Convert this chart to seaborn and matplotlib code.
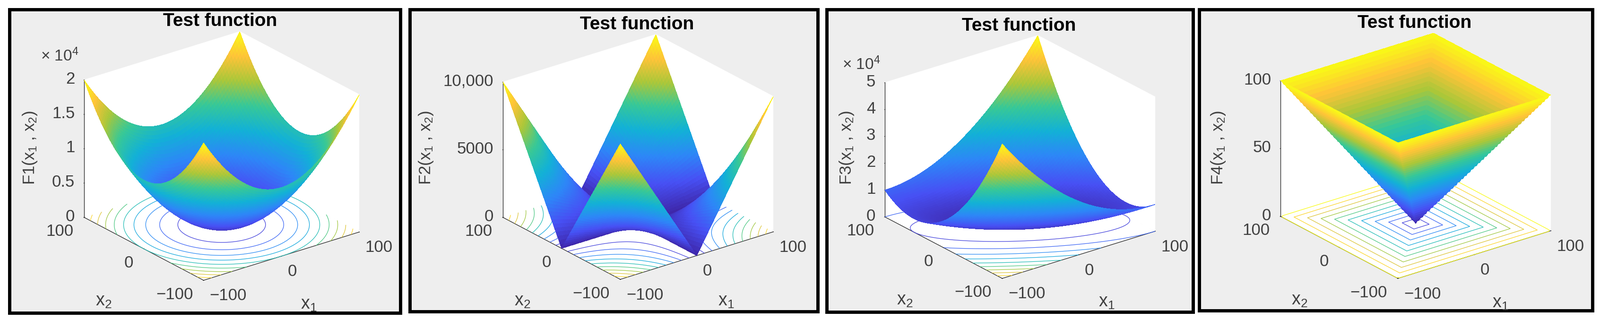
import numpy as np
import matplotlib
matplotlib.use('Agg')
import matplotlib.pyplot as plt
import seaborn as sns
from matplotlib.patches import Rectangle
from matplotlib.transforms import Affine2D
from mpl_toolkits.mplot3d import proj3d

W_PX, H_PX = 3385, 677

# ── values ────────────────────────────────────────────────────────
# |x| on the half axis, step 2.5
abs_half = [0, 2.5, 5, 7.5, 10, 12.5, 15, 17.5, 20, 22.5, 25, 27.5, 30, 32.5, 35, 37.5,
            40, 42.5, 45, 47.5, 50, 52.5, 55, 57.5, 60, 62.5, 65, 67.5, 70, 72.5, 75,
            77.5, 80, 82.5, 85, 87.5, 90, 92.5, 95, 97.5, 100]
# height of the parabola walls, same step, runs out to |x| = 200 for F3
sq_half = [0, 6.25, 25, 56.25, 100, 156.25, 225, 306.25, 400, 506.25, 625, 756.25, 900,
           1056.25, 1225, 1406.25, 1600, 1806.25, 2025, 2256.25, 2500, 2756.25, 3025,
           3306.25, 3600, 3906.25, 4225, 4556.25, 4900, 5256.25, 5625, 6006.25, 6400,
           6806.25, 7225, 7656.25, 8100, 8556.25, 9025, 9506.25, 10000, 10506.25, 11025,
           11556.25, 12100, 12656.25, 13225, 13806.25, 14400, 15006.25, 15625, 16256.25,
           16900, 17556.25, 18225, 18906.25, 19600, 20306.25, 21025, 21756.25, 22500,
           23256.25, 24025, 24806.25, 25600, 26406.25, 27225, 28056.25, 28900, 29756.25,
           30625, 31506.25, 32400, 33306.25, 34225, 35156.25, 36100, 37056.25, 38025,
           39006.25, 40000]

xy_ticks = [-100, 0, 100]
xy_ticklabels = ['\u2212100', '0', '100']

names = ['F1', 'F2', 'F3', 'F4']
z_tops = [20000, 10000, 50000, 100]
z_ticks = [[0, 5000, 10000, 15000, 20000],
           [0, 5000, 10000],
           [0, 10000, 20000, 30000, 40000, 50000],
           [0, 50, 100]]
z_ticklabels = [['0', '0.5', '1', '1.5', '2'],
                ['0', '5000', '10,000'],
                ['0', '1', '2', '3', '4', '5'],
                ['0', '50', '100']]
contour_levels = [[2000, 4000, 6000, 8000, 10000, 12000, 14000, 16000, 18000],
                  [1000, 2000, 3000, 4000, 5000, 6000, 7000, 8000, 9000],
                  [5000, 10000, 15000, 20000, 25000, 30000, 35000, 40000, 45000],
                  [10, 20, 30, 40, 50, 60, 70, 80, 90, 99.9]]
parula_anchors = ['#3e26a8', '#4750f4', '#2d87f7', '#12b1d6', '#37c897', '#abc739',
                  '#fec338', '#f9fb15']

# ── layout, in reference pixels ───────────────────────────────────
frames = [(16, 16, 850, 665), (863, 16, 1734, 662), (1745, 16, 2527, 663), (2533, 16, 3372, 660)]
# left floor corner x, right floor corner x, front floor y, back top y
cubes = [(178, 760, 593, 67), (1064, 1636, 591, 73), (1872, 2444, 589, 75), (2709, 3281, 589, 70)]
title_xy = [(466, 45), (1348, 52), (2156, 55), (2993, 49)]
zlabel_xy = [(63, 313), (902, 313), (1791, 313), (2578, 313)]
x1_xy = [(653, 644), (1536, 637), (2341, 639), (3174, 641)]
x2_xy = [(219, 637), (1105, 637), (1914, 635), (2749, 635)]
expo_xy = [(126, 119), None, (1822, 137), None]

sns.set_theme(style='white')
plt.rcParams['font.family'] = ['Liberation Sans', 'DejaVu Sans']
plt.rcParams['mathtext.default'] = 'regular'
TXT = '#404040'
parula = sns.blend_palette(parula_anchors, as_cmap=True)


def fx(px):
    return px / W_PX


def fy(px):
    return 1 - px / H_PX


def nudge_up(label, px):
    # mplot3d resets tick label positions at draw time, so shift while drawing
    draw = label.draw

    def shifted(renderer):
        t = label.get_transform()
        label.set_transform(t + Affine2D().translate(0, px))
        draw(renderer)
        label.set_transform(t)
    label.draw = shifted


# ── surfaces ──────────────────────────────────────────────────────
sq = np.array(sq_half)
ab = np.array(abs_half)
idx = np.arange(-40, 41)
x_axis = np.sign(idx) * ab[np.abs(idx)]
I, J = np.meshgrid(idx, idx)
X, Y = np.meshgrid(x_axis, x_axis)
Z1 = sq[np.abs(I)] + sq[np.abs(J)]
Z2 = ab[np.abs(I)] * ab[np.abs(J)]
Z3 = sq[np.abs(J)] + sq[np.abs(I + J)]
Z4 = np.maximum(ab[np.abs(I)], ab[np.abs(J)])
surfaces = [Z1, Z2, Z3, Z4]

fig = plt.figure(figsize=(W_PX / 100, H_PX / 100), dpi=100, facecolor='white')

for i, name in enumerate(names):
    x0, y0, x1, y1 = frames[i]
    fig.add_artist(Rectangle((fx(x0 + 3.5), fy(y1 - 3.5)), (x1 - x0 - 7) / W_PX, (y1 - y0 - 7) / H_PX,
                             transform=fig.transFigure, facecolor='#eeeeee', edgecolor='black',
                             linewidth=5, zorder=-5))

    ax = fig.add_axes([0.1, 0.1, 0.2, 0.8], projection='3d', computed_zorder=False)
    ax.set_proj_type('ortho')
    ax.view_init(elev=30, azim=-127.5)
    ax.set_box_aspect((1, 1, 1))
    ax.patch.set_alpha(0)
    ax.set_xlim(-100, 100, view_margin=0)
    ax.set_ylim(-100, 100, view_margin=0)
    ax.set_zlim(0, z_tops[i], view_margin=0)

    sz = surfaces[i]
    ax.contour(X, Y, sz, levels=contour_levels[i], zdir='z', offset=0, cmap=parula,
               vmin=0, vmax=z_tops[i], linewidths=0.9, zorder=1)
    ax.plot_surface(X, Y, sz, rstride=1, cstride=1, cmap=parula, vmin=0, vmax=z_tops[i],
                    linewidth=0, antialiased=False, zorder=2)

    ax.set_xticks(xy_ticks, labels=xy_ticklabels)
    ax.set_yticks(xy_ticks, labels=xy_ticklabels)
    ax.set_zticks(z_ticks[i], labels=z_ticklabels[i])
    ax.grid(False)
    for axis in (ax.xaxis, ax.yaxis, ax.zaxis):
        axis.set_pane_color('white')
        axis.pane.set_edgecolor('white')
        axis.line.set_color('#303030')
        axis.line.set_linewidth(1.0)
        axis._axinfo['tick']['inward_factor'] = 0.03
        axis._axinfo['tick']['outward_factor'] = 0.03
        axis._axinfo['tick']['linewidth'] = {True: 0.8, False: 0.5}
        axis._axinfo['tick']['color'] = '#303030'
    ax.tick_params(axis='x', labelsize=25, labelcolor=TXT, pad=4)
    ax.tick_params(axis='y', labelsize=25, labelcolor=TXT, pad=8)
    ax.tick_params(axis='z', labelsize=25, labelcolor=TXT, pad=0)
    for lab in ax.get_xticklabels():
        lab.set_ha('left')
        nudge_up(lab, 5)
    for lab in ax.get_yticklabels():
        lab.set_ha('right')
        nudge_up(lab, 13)
    for lab in ax.get_zticklabels():
        lab.set_ha('right')
        nudge_up(lab, 17)

    # stretch the cube so its corners land where the reference has them
    ax.apply_aspect = lambda position=None, a=ax: a._set_position(a.get_position(original=True), 'active')
    M = ax.get_proj()
    u_l, _, _ = proj3d.proj_transform(-100, 100, 0, M)
    u_r, _, _ = proj3d.proj_transform(100, -100, 0, M)
    _, v_b, _ = proj3d.proj_transform(-100, -100, 0, M)
    _, v_t, _ = proj3d.proj_transform(100, 100, z_tops[i], M)
    vx0, vx1 = ax.viewLim.intervalx
    vy0, vy1 = ax.viewLim.intervaly
    xl, xr, yb, yt = cubes[i]
    w = (xr - xl) * (vx1 - vx0) / (u_r - u_l)
    left = xl - w * (u_l - vx0) / (vx1 - vx0)
    h = (yb - yt) * (vy1 - vy0) / (v_t - v_b)
    bottom = (H_PX - yb) - h * (v_b - vy0) / (vy1 - vy0)
    ax.set_position([left / W_PX, bottom / H_PX, w / W_PX, h / H_PX])

    fig.text(fx(title_xy[i][0]), fy(title_xy[i][1]), 'Test function', ha='center', va='center',
             fontsize=28, fontweight='bold', color='black')
    fig.text(fx(zlabel_xy[i][0]), fy(zlabel_xy[i][1]), name + '(x$_1$ , x$_2$)', rotation=90,
             ha='center', va='center', fontsize=25, color=TXT)
    fig.text(fx(x1_xy[i][0]), fy(x1_xy[i][1]), 'x$_1$', ha='center', va='center', fontsize=27, color=TXT)
    fig.text(fx(x2_xy[i][0]), fy(x2_xy[i][1]), 'x$_2$', ha='center', va='center', fontsize=27, color=TXT)
    if expo_xy[i] is not None:
        fig.text(fx(expo_xy[i][0]), fy(expo_xy[i][1]), '\u00d7 10$^4$', ha='center', va='center',
                 fontsize=24, color=TXT)

fig.savefig('out.png', dpi=100, facecolor='white')
